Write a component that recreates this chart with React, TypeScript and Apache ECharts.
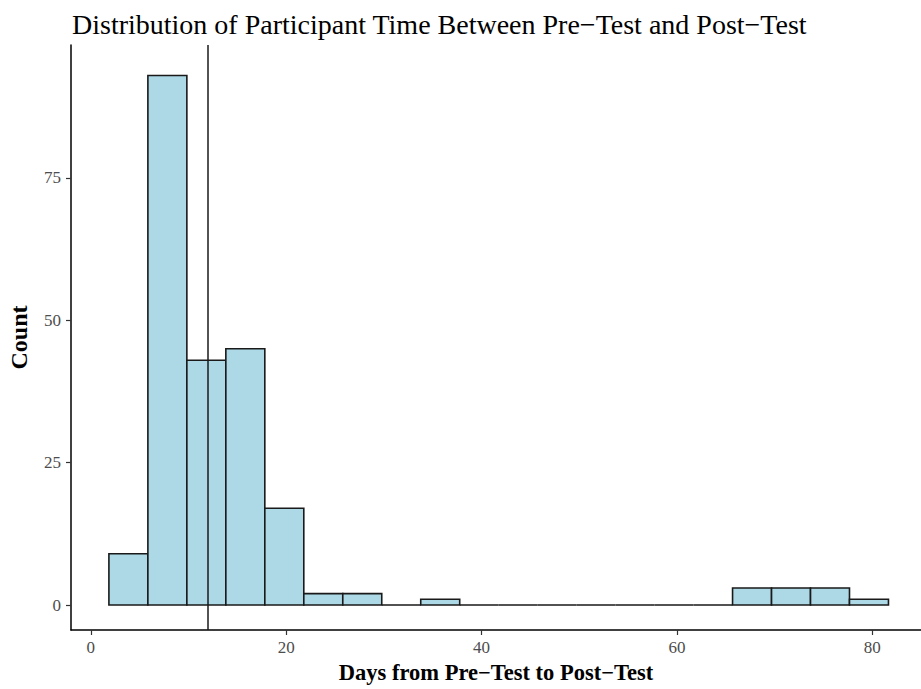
import React, { useEffect, useRef } from "react";
import * as echarts from "echarts";

const firstBinStart = 1.85;
const binWidth = 3.99;
const counts = [9, 93, 43, 45, 17, 2, 2, 0, 1, 0, 0, 0, 0, 0, 0, 0, 3, 3, 3, 1];
const meanDays = 11.95;
const xTicks = [0, 20, 40, 60, 80];
const yTicks = [0, 25, 50, 75];

const FONT = "'Liberation Serif', 'DejaVu Serif', serif";

export default function App() {
  const ref = useRef<HTMLDivElement>(null);
  useEffect(() => {
    if (!ref.current) return;
    const chart = echarts.init(ref.current, undefined, { renderer: "svg" });
    const data = counts.map((c, i) => {
      const s = firstBinStart + i * binWidth;
      return [s, s + binWidth, c];
    });
    chart.setOption({
      animation: false,
      backgroundColor: "#ffffff",
      title: {
        text: "Distribution of Participant Time Between Pre\u2212Test and Post\u2212Test",
        left: 67,
        top: 5,
        textStyle: { fontFamily: FONT, fontSize: 28, fontWeight: "normal", color: "#000" },
      },
      grid: { left: 71, right: 0, top: 45, bottom: 59, containLabel: false, outerBoundsMode: "none" },
      xAxis: {
        type: "value",
        min: -2.03,
        max: 84.98,
        name: "Days from Pre\u2212Test to Post\u2212Test",
        nameLocation: "middle",
        nameGap: 31,
        nameTextStyle: { fontFamily: FONT, fontSize: 22.5, fontWeight: "bold", color: "#000" },
        splitLine: { show: false },
        axisLine: { onZero: false, lineStyle: { color: "#000", width: 1.5 } },
        axisTick: { show: true, customValues: xTicks, length: 5, lineStyle: { color: "#333", width: 1.2 } },
        axisLabel: { customValues: xTicks, fontFamily: FONT, fontSize: 17, color: "#4D4D4D", margin: 9 },
      },
      yAxis: {
        type: "value",
        min: -4.39,
        max: 98.36,
        name: "Count",
        nameLocation: "middle",
        nameGap: 40,
        nameRotate: 90,
        nameTextStyle: { fontFamily: FONT, fontSize: 24, fontWeight: "bold", color: "#000" },
        splitLine: { show: false },
        axisLine: { show: true, onZero: false, lineStyle: { color: "#000", width: 1.5 } },
        axisTick: { show: true, customValues: yTicks, length: 5, lineStyle: { color: "#333", width: 1.2 } },
        axisLabel: { customValues: yTicks, fontFamily: FONT, fontSize: 17, color: "#4D4D4D", margin: 10 },
      },
      series: [
        {
          type: "custom",
          data,
          renderItem: (params: any, api: any) => {
            const p0 = api.coord([api.value(0), api.value(2)]);
            const p1 = api.coord([api.value(1), 0]);
            return {
              type: "rect",
              shape: { x: p0[0], y: p0[1], width: p1[0] - p0[0], height: p1[1] - p0[1] },
              style: { fill: "#ADD8E6", stroke: "#1a1a1a", lineWidth: 1.6 },
            };
          },
          encode: { x: [0, 1], y: 2 },
          z: 2,
        },
        {
          type: "line",
          data: [],
          markLine: {
            silent: true,
            symbol: ["none", "none"],
            label: { show: false },
            lineStyle: { color: "#1a1a1a", width: 1.5, type: "solid" },
            data: [{ xAxis: meanDays }],
          },
          z: 3,
        },
      ],
    });
    return () => chart.dispose();
  }, []);
  return <div ref={ref} style={{ position: "fixed", left: 0, top: 0, width: 921, height: 689 }} />;
}
